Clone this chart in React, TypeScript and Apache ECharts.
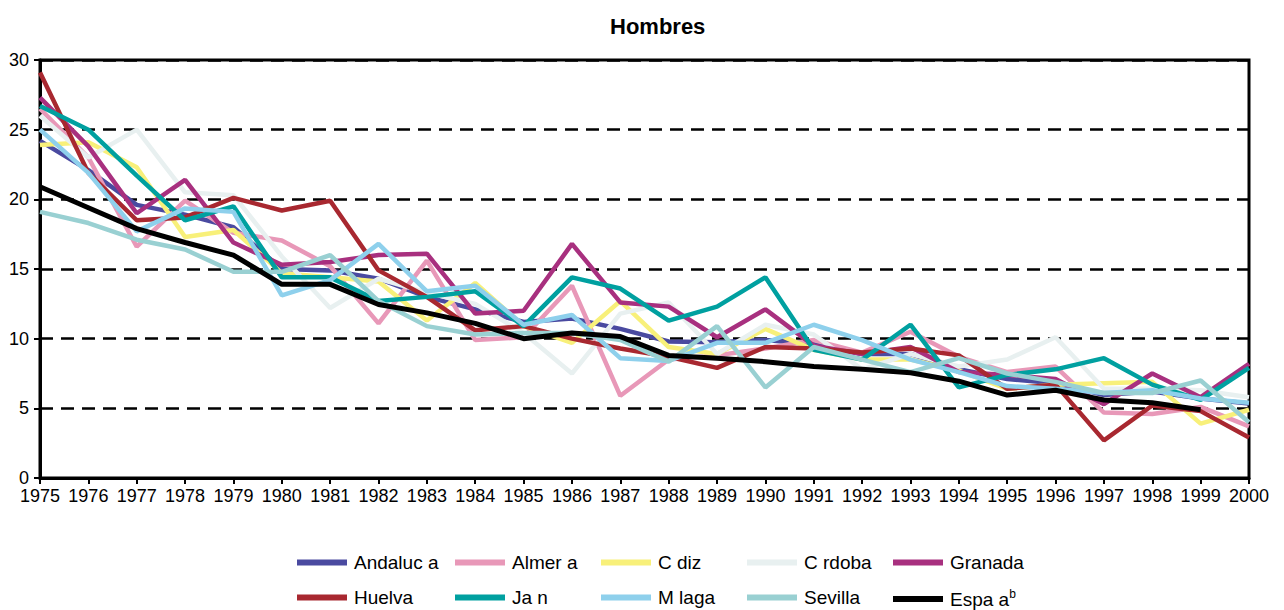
import React, { useEffect, useRef } from "react";
import * as echarts from "echarts";

const years = [
  "1975", "1976", "1977", "1978", "1979", "1980", "1981", "1982", "1983", "1984",
  "1985", "1986", "1987", "1988", "1989", "1990", "1991", "1992", "1993", "1994",
  "1995", "1996", "1997", "1998", "1999", "2000",
];

const andalucia = [24.2, 22.1, 19.6, 18.9, 18.0, 15.0, 14.9, 14.3, 13.0, 12.1, 11.2, 11.45, 10.7, 9.8, 9.75, 9.9, 9.6, 8.9, 8.9, 7.8, 7.1, 6.8, 5.95, 6.2, 5.7, 5.35];
const almeria = [26.5, 23.0, 16.6, 19.9, 17.6, 17.05, 15.2, 11.1, 15.6, 9.9, 10.1, 13.8, 5.9, 8.5, 8.8, 9.3, 9.9, 9.0, 10.5, 8.7, 7.6, 8.0, 4.7, 4.6, 5.1, 3.7];
const cadiz = [23.9, 24.1, 22.3, 17.3, 17.8, 14.7, 14.4, 14.1, 11.3, 14.0, 10.9, 9.7, 12.7, 9.4, 8.9, 10.7, 9.2, 8.5, 8.5, 7.7, 6.4, 6.7, 6.8, 6.9, 3.9, 4.9];
const cordoba = [26.0, 23.0, 25.0, 20.5, 20.3, 15.9, 12.2, 14.3, 13.3, 12.5, 10.4, 7.5, 11.8, 12.6, 8.9, 11.0, 10.3, 7.8, 8.9, 8.0, 8.5, 10.1, 6.4, 6.4, 6.3, 5.8];
const granada = [27.3, 23.8, 19.0, 21.4, 16.9, 15.3, 15.5, 16.0, 16.1, 11.8, 12.0, 16.8, 12.6, 12.3, 10.1, 12.1, 9.5, 8.9, 9.4, 7.6, 7.4, 7.1, 5.3, 7.5, 5.8, 8.2];
const huelva = [29.1, 21.9, 18.5, 18.7, 20.1, 19.2, 19.9, 14.9, 13.0, 10.6, 10.9, 10.0, 9.3, 8.7, 7.9, 9.4, 9.3, 9.0, 9.3, 8.8, 6.4, 6.7, 2.7, 5.2, 4.8, 2.9];
const jaen = [26.7, 25.0, 21.7, 18.5, 19.5, 14.4, 14.4, 12.7, 13.0, 13.4, 10.9, 14.4, 13.6, 11.3, 12.3, 14.4, 9.2, 8.5, 11.0, 6.5, 7.4, 7.8, 8.6, 6.7, 5.6, 7.9];
const malaga = [25.0, 21.9, 17.7, 19.35, 19.1, 13.1, 14.2, 16.8, 13.4, 13.8, 11.0, 11.7, 8.6, 8.4, 9.7, 9.7, 11.0, 9.9, 8.5, 7.6, 6.6, 6.4, 6.1, 6.3, 5.7, 5.4];
const sevilla = [19.1, 18.3, 17.1, 16.4, 14.8, 14.8, 16.0, 12.7, 10.9, 10.3, 10.4, 10.4, 9.9, 8.35, 10.9, 6.5, 9.4, 8.5, 7.6, 8.6, 7.5, 6.9, 6.1, 6.1, 7.0, 4.0];
const espana = [20.9, 19.4, 17.9, 16.9, 16.0, 13.9, 13.9, 12.45, 11.85, 11.1, 10.0, 10.4, 10.15, 8.8, 8.6, 8.35, 8.0, 7.8, 7.55, 6.95, 5.95, 6.3, 5.6, 5.4, 4.9, null];

const yTicks = [0, 5, 10, 15, 20, 25, 30];

const seriesNames = ["Andaluc a", "Almer a", "C diz", "C rdoba", "Granada", "Huelva", "Ja n", "M laga", "Sevilla", "Espa a"];
const seriesValues = [andalucia, almeria, cadiz, cordoba, granada, huelva, jaen, malaga, sevilla, espana];
const seriesColors = ["#4a4aa0", "#e898b8", "#f8f07a", "#e8f0f0", "#a8307f", "#a82830", "#00a0a0", "#8ed0ec", "#99d0d2", "#000000"];

const legendLeft = [297, 455, 601, 747, 893];
const legendTop = [553, 588];

export default function App() {
  const ref = useRef<HTMLDivElement>(null);
  useEffect(() => {
    document.body.style.margin = "0";
    if (!ref.current) return;
    const chart = echarts.init(ref.current, undefined, { renderer: "svg" });
    const font = "Liberation Sans, Arial, sans-serif";
    const legends = seriesNames.map((name, i) => ({
      data: [{ name, icon: "rect" }],
      left: legendLeft[i % 5],
      top: legendTop[Math.floor(i / 5)],
      padding: 0,
      itemWidth: 50,
      itemHeight: 6,
      selectedMode: false,
      formatter: (n: string) => (n === "Espa a" ? "{n|Espa a}{s|b}" : n),
      textStyle: {
        fontFamily: font,
        fontSize: 19,
        color: "#000",
        padding: [0, 0, 0, 2],
        rich: {
          n: { fontFamily: font, fontSize: 19, color: "#000" },
          s: { fontFamily: font, fontSize: 12, color: "#000", verticalAlign: "top", padding: [0, 0, 10, 0] },
        },
      },
    }));
    chart.setOption({
      animation: false,
      backgroundColor: "#fff",
      title: {
        text: "Hombres",
        left: 605,
        top: 10,
        textStyle: { fontFamily: font, fontSize: 22, fontWeight: "bold", color: "#000" },
      },
      legend: legends,
      grid: {
        left: 40,
        right: 35,
        top: 60,
        bottom: 132,
        show: true,
        borderColor: "#000",
        borderWidth: 3,
      },
      xAxis: {
        type: "category",
        data: years,
        boundaryGap: false,
        axisLine: { lineStyle: { color: "#000", width: 3 } },
        axisTick: { show: true, length: 6, interval: 0, lineStyle: { color: "#000", width: 2 } },
        axisLabel: { interval: 0, margin: 9, fontFamily: font, fontSize: 18, color: "#000" },
        splitLine: { show: false },
      },
      yAxis: {
        type: "value",
        min: yTicks[0],
        max: yTicks[yTicks.length - 1],
        interval: 5,
        axisLine: { show: true, lineStyle: { color: "#000", width: 3 } },
        axisTick: { show: true, length: 6, lineStyle: { color: "#000", width: 2 } },
        axisLabel: { margin: 11, fontFamily: font, fontSize: 18, color: "#000" },
        splitLine: { show: true, lineStyle: { color: "#000", width: 2.5, type: [13, 8] } },
      },
      series: seriesNames.map((name, i) => ({
        name,
        type: "line",
        data: seriesValues[i],
        symbol: "none",
        connectNulls: false,
        color: seriesColors[i],
        lineStyle: { color: seriesColors[i], width: i === 9 ? 5 : 4.5 },
        z: 2 + i,
      })),
    });
    return () => chart.dispose();
  }, []);
  return <div ref={ref} style={{ width: 1284, height: 610 }} />;
}
